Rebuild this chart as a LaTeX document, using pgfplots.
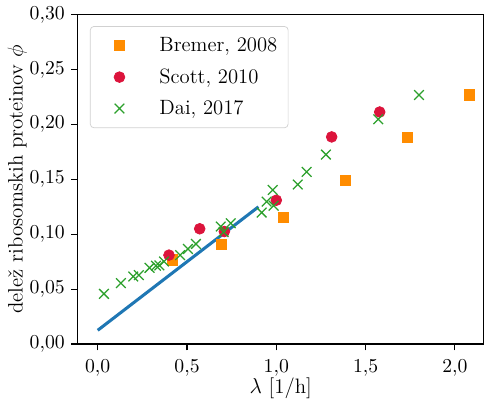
\documentclass[border=0pt]{standalone}
\usepackage{pgfplots}
\pgfplotsset{compat=1.18}

\definecolor{sqorange}{HTML}{FF8C00}
\definecolor{circred}{HTML}{DC143C}
\definecolor{crossgreen}{HTML}{2CA02C}
\definecolor{lineblue}{HTML}{1F77B4}

\begin{document}
\begin{tikzpicture}
  \useasboundingbox (-43pt,-31.7pt) rectangle (226pt,191.2pt);
  \begin{axis}[
      scale only axis,
      width=226pt, height=183pt,
      xmin=-0.114, xmax=2.163,
      ymin=0, ymax=0.30,
      xtick={0,0.5,1,1.5,2},
      ytick={0,0.05,0.10,0.15,0.20,0.25,0.30},
      tick align=outside,
      xtick pos=left, ytick pos=left,
      major tick length=3.5pt,
      every tick/.style={black, line width=0.6pt},
      axis line style={line width=0.6pt},
      tick label style={font=\fontsize{11}{13}\selectfont},
      xticklabel style={yshift=-1.5pt, /pgf/number format/.cd, fixed, fixed zerofill, precision=1, use comma},
      yticklabel style={/pgf/number format/.cd, fixed, fixed zerofill, precision=2, use comma},
      scaled ticks=false,
      xlabel={$\lambda$ [1/h]},
      ylabel={dele\v{z} ribosomskih proteinov $\phi$},
      xlabel style={at={(axis description cs:0.5,-0.133)}, anchor=center, font=\fontsize{11.6}{13}\selectfont},
      ylabel style={at={(axis description cs:-0.148,0.5)}, anchor=center, font=\fontsize{11.6}{13}\selectfont},
      legend cell align=left,
      legend style={at={(axis description cs:0,1)}, anchor=north west,
        xshift=7pt, yshift=-6.3pt,
        draw=black!18, rounded corners=2pt,
        font=\fontsize{11.5}{14}\selectfont,
        row sep=4pt, inner xsep=4pt, inner ysep=4pt},
      legend image code/.code={\path (-12pt,0pt) (20pt,0pt); \draw[#1] plot coordinates {(0pt,0pt)};},
    ]
    \addplot[forget plot, lineblue, line width=1.7pt] coordinates {
      (0,0.0125) (0.9,0.125)
    };
    \addplot[only marks, mark=square*, mark size=2.8pt, color=sqorange] coordinates {
      (0.416,0.0767) (0.694,0.091) (1.039,0.1156) (1.387,0.1495) (1.734,0.188) (2.079,0.227)
    };
    \addlegendentry{Bremer, 2008}
    \addplot[only marks, mark=*, mark size=3pt, color=circred] coordinates {
      (0.399,0.081) (0.571,0.105) (0.709,0.1025) (1.0,0.131) (1.31,0.1887) (1.579,0.2114)
    };
    \addlegendentry{Scott, 2010}
    \addplot[only marks, mark=x, mark size=3.8pt, color=crossgreen, mark options={line width=0.7pt}] coordinates {
      (0.035,0.0457) (0.130,0.0555) (0.199,0.0615) (0.230,0.0628)
      (0.290,0.0694) (0.326,0.0713) (0.345,0.0716) (0.371,0.0752)
      (0.461,0.081) (0.505,0.0866) (0.550,0.0912) (0.689,0.107)
      (0.705,0.102) (0.745,0.110) (0.918,0.1198) (0.946,0.1298)
      (0.980,0.1404) (0.985,0.126) (1.120,0.1453) (1.170,0.1568)
      (1.278,0.1726) (1.571,0.2048) (1.799,0.2269)
    };
    \addlegendentry{Dai, 2017}
  \end{axis}
\end{tikzpicture}
\end{document}
